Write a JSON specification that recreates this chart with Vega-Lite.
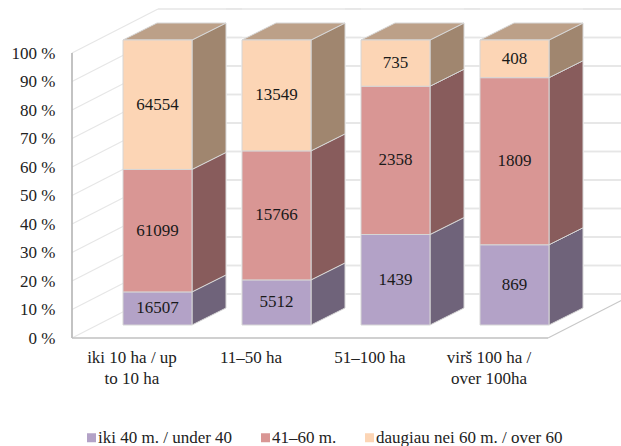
{
"$schema":"https://vega.github.io/schema/vega-lite/v6.json",
"width":549,"height":338,
"autosize":{"type":"none"},
"padding":{"left":72,"top":0,"right":0,"bottom":108},
"background":"white",
"config":{"font":"Liberation Serif","view":{"stroke":null},"axisY":{"tickCount":12}},
"datasets":{
"main":[
{"pos":1,"series":"iki 40 m. / under 40","order":1,"count":16507},
{"pos":1,"series":"41–60 m.","order":2,"count":61099},
{"pos":1,"series":"daugiau nei 60 m. / over 60","order":3,"count":64554},
{"pos":2,"series":"iki 40 m. / under 40","order":1,"count":5512},
{"pos":2,"series":"41–60 m.","order":2,"count":15766},
{"pos":2,"series":"daugiau nei 60 m. / over 60","order":3,"count":13549},
{"pos":3,"series":"iki 40 m. / under 40","order":1,"count":1439},
{"pos":3,"series":"41–60 m.","order":2,"count":2358},
{"pos":3,"series":"daugiau nei 60 m. / over 60","order":3,"count":735},
{"pos":4,"series":"iki 40 m. / under 40","order":1,"count":869},
{"pos":4,"series":"41–60 m.","order":2,"count":1809},
{"pos":4,"series":"daugiau nei 60 m. / over 60","order":3,"count":408}
],
"wall":[{"t":0},{"t":10},{"t":20},{"t":30},{"t":40},{"t":50},{"t":60},{"t":70},{"t":80},{"t":90},{"t":100}],
"back":[{"g":0},{"g":10},{"g":20},{"g":30},{"g":40},{"g":50},{"g":60},{"g":70},{"g":80},{"g":90},{"g":100}]
},
"data":{"name":"wall"},
"layer":[
{"data":{"name":"wall"},
 "transform":[{"calculate":"datum.t+15.44","as":"tb"},{"calculate":"1.2227","as":"xb"},{"calculate":"0.5","as":"xf"}],
 "mark":{"type":"rule","color":"#e6e6e6","strokeWidth":1.2},
 "encoding":{
  "x":{"field":"xf","type":"quantitative","scale":{"domain":[0.5,5.1134],"nice":false,"zero":false},
   "axis":{"title":null,"values":[1,2,3,4],"domain":false,"ticks":false,"grid":false,"labelFont":"Liberation Serif","labelFontSize":17,"labelColor":"#222222","labelPadding":11,"labelLineHeight":21,"labelAlign":"center","labelBaseline":"top",
    "labelExpr":"datum.value==1?['iki 10 ha / up','to 10 ha']:datum.value==2?'11–50 ha':datum.value==3?'51–100 ha':['virš 100 ha /','over 100ha']"}},
  "x2":{"field":"xb"},
  "y":{"field":"t","type":"quantitative","scale":{"domain":[0,118.6],"nice":false,"zero":false},
   "axis":{"title":null,"tickCount":12,"values":[0,10,20,30,40,50,60,70,80,90,100],"labelOverlap":false,"domain":false,"ticks":false,"grid":false,"labelFont":"Liberation Serif","labelFontSize":17,"labelColor":"#222222","labelPadding":17,"labelExpr":"datum.value>100?'':datum.value+' %'"}},
  "y2":{"field":"tb"}
 }},
{"data":{"name":"back"},
 "transform":[{"calculate":"datum.g+15.44","as":"gy"}],
 "mark":{"type":"rule","color":"#e6e6e6","strokeWidth":1.6},
 "encoding":{
  "x":{"datum":1.2227,"type":"quantitative"},
  "x2":{"datum":5.2},
  "y":{"field":"gy","type":"quantitative"}
 }},
{"data":{"values":[{}]},"mark":{"type":"rule","color":"#b4b4b4","strokeWidth":1.6},
 "encoding":{"x":{"datum":0.5,"type":"quantitative"},"y":{"datum":0,"type":"quantitative"},"y2":{"datum":100}}},
{"data":{"values":[{}]},"mark":{"type":"rule","color":"#c0c0c0","strokeWidth":1.6},
 "encoding":{"x":{"datum":0.5,"type":"quantitative"},"x2":{"datum":4.5},"y":{"datum":0,"type":"quantitative"}}},
{"data":{"values":[{}]},"mark":{"type":"rule","color":"#c8c8c8","strokeWidth":1.2},
 "encoding":{"x":{"datum":4.5,"type":"quantitative"},"x2":{"datum":5.2227},"y":{"datum":0,"type":"quantitative"},"y2":{"datum":15.44}}},
{"data":{"name":"main"},
 "transform":[
  {"joinaggregate":[{"op":"sum","field":"count","as":"total"}],"groupby":["pos"]},
  {"calculate":"100*datum.count/datum.total","as":"pct"},
  {"stack":"pct","groupby":["pos"],"sort":[{"field":"order","order":"ascending"}],"as":["s0","s1"]},
  {"calculate":"datum.s0+4.56","as":"y0"},
  {"calculate":"datum.s1+4.56","as":"y1"},
  {"calculate":"datum.pos-0.0714","as":"xl"},
  {"calculate":"datum.pos+0.5084","as":"xr"},
  {"fold":["xr","xl"],"as":["edge","ev"]},
  {"calculate":"datum.edge=='xl'?1:0","as":"k"},
  {"calculate":"datum.xr+datum.k*0.2857","as":"sx"},
  {"calculate":"datum.y1+datum.k*5.96","as":"st"},
  {"calculate":"datum.y0+datum.k*5.96","as":"sb"}],
 "mark":{"type":"area","stroke":"#d6d6d6","strokeWidth":1,"opacity":1,"orient":"vertical"},
 "encoding":{
  "x":{"field":"sx","type":"quantitative"},
  "y":{"field":"st","type":"quantitative","stack":null},
  "y2":{"field":"sb"},
  "detail":{"field":"pos"},
  "color":{"field":"series","type":"nominal","legend":null,
   "scale":{"domain":["iki 40 m. / under 40","41–60 m.","daugiau nei 60 m. / over 60"],"range":["#6f637a","#885c5c","#a0866f"]}}
 }},
{"data":{"name":"main"},
 "transform":[
  {"joinaggregate":[{"op":"sum","field":"count","as":"total"}],"groupby":["pos"]},
  {"calculate":"100*datum.count/datum.total","as":"pct"},
  {"stack":"pct","groupby":["pos"],"sort":[{"field":"order","order":"ascending"}],"as":["s0","s1"]},
  {"calculate":"datum.s1+4.56","as":"y1"},
  {"calculate":"datum.pos-0.0714","as":"xl"},
  {"calculate":"datum.pos+0.5084","as":"xr"},
  {"filter":"datum.order==3"},
  {"fold":["xr","xl"],"as":["edge","ev"]},
  {"calculate":"datum.edge=='xl'?1:0","as":"k"},
  {"calculate":"datum.xl+datum.k*0.2857","as":"tl"},
  {"calculate":"datum.xr+datum.k*0.2857","as":"tr"},
  {"calculate":"datum.y1+datum.k*5.96","as":"ty"}],
 "mark":{"type":"area","orient":"horizontal","fill":"#bca088","stroke":"#d6d6d6","strokeWidth":1,"opacity":1},
 "encoding":{
  "y":{"field":"ty","type":"quantitative","stack":null},
  "x":{"field":"tl","type":"quantitative","stack":null},
  "x2":{"field":"tr"},
  "detail":{"field":"pos"}
 }},
{"data":{"name":"main"},
 "transform":[
  {"joinaggregate":[{"op":"sum","field":"count","as":"total"}],"groupby":["pos"]},
  {"calculate":"100*datum.count/datum.total","as":"pct"},
  {"stack":"pct","groupby":["pos"],"sort":[{"field":"order","order":"ascending"}],"as":["s0","s1"]},
  {"calculate":"datum.s0+4.56","as":"y0"},
  {"calculate":"datum.s1+4.56","as":"y1"},
  {"calculate":"datum.pos-0.0714","as":"xl"},
  {"calculate":"datum.pos+0.5084","as":"xr"}],
 "mark":{"type":"rect","stroke":"#d6d6d6","strokeWidth":1,"opacity":1},
 "encoding":{
  "x":{"field":"xl","type":"quantitative"},
  "x2":{"field":"xr"},
  "y":{"field":"y0","type":"quantitative"},
  "y2":{"field":"y1"},
  "color":{"field":"series","type":"nominal",
   "scale":{"domain":["iki 40 m. / under 40","41–60 m.","daugiau nei 60 m. / over 60"],"range":["#b3a2c7","#d99694","#fcd5b5"]},
   "legend":{"title":null,"orient":"none","legendX":11,"legendY":429,"direction":"horizontal","columns":3,"symbolType":"square","symbolSize":81,"symbolStrokeWidth":0,"labelFont":"Liberation Serif","labelFontSize":17,"labelColor":"#222222","columnPadding":24,"labelOffset":-2,"labelLimit":300}}
 }},
{"data":{"name":"main"},
 "transform":[
  {"joinaggregate":[{"op":"sum","field":"count","as":"total"}],"groupby":["pos"]},
  {"calculate":"100*datum.count/datum.total","as":"pct"},
  {"stack":"pct","groupby":["pos"],"sort":[{"field":"order","order":"ascending"}],"as":["s0","s1"]},
  {"calculate":"(datum.s0+datum.s1)/2+4.56","as":"yc"},
  {"calculate":"datum.pos+0.2185","as":"xc"}],
 "mark":{"type":"text","font":"Liberation Serif","fontSize":17,"color":"#1a1a1a","align":"center","baseline":"middle"},
 "encoding":{
  "x":{"field":"xc","type":"quantitative"},
  "y":{"field":"yc","type":"quantitative"},
  "text":{"field":"count","type":"nominal"}
 }},
{"data":{"name":"back"},"transform":[{"calculate":"datum.g+15.44","as":"gy"}],
 "mark":{"type":"rule","color":"#e6e6e6","strokeWidth":1.6},
 "encoding":{"x":{"datum":1.794,"type":"quantitative"},"x2":{"datum":1.9286},"y":{"field":"gy","type":"quantitative"}}},
{"data":{"name":"back"},"transform":[{"calculate":"datum.g+15.44","as":"gy"}],
 "mark":{"type":"rule","color":"#e6e6e6","strokeWidth":1.6},
 "encoding":{"x":{"datum":2.794,"type":"quantitative"},"x2":{"datum":2.9286},"y":{"field":"gy","type":"quantitative"}}},
{"data":{"name":"back"},"transform":[{"calculate":"datum.g+15.44","as":"gy"}],
 "mark":{"type":"rule","color":"#e6e6e6","strokeWidth":1.6},
 "encoding":{"x":{"datum":3.794,"type":"quantitative"},"x2":{"datum":3.9286},"y":{"field":"gy","type":"quantitative"}}},
{"data":{"name":"back"},"transform":[{"calculate":"datum.g+15.44","as":"gy"}],
 "mark":{"type":"rule","color":"#e6e6e6","strokeWidth":1.6},
 "encoding":{"x":{"datum":4.794,"type":"quantitative"},"x2":{"datum":5.2},"y":{"field":"gy","type":"quantitative"}}}
],
"resolve":{"scale":{"color":"independent"}}
}
